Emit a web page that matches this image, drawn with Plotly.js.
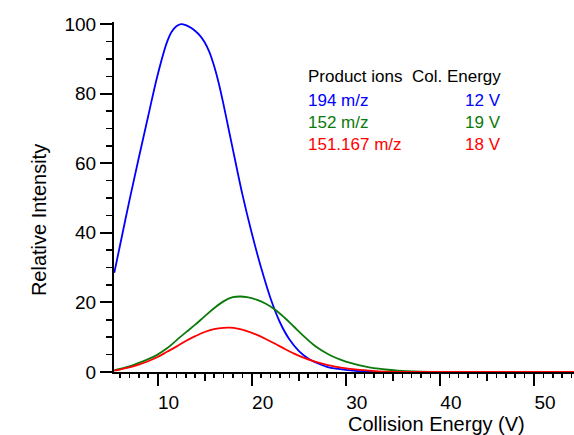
<!DOCTYPE html>
<html>
<head>
<meta charset="utf-8">
<script src="https://cdn.plot.ly/plotly-3.0.1.min.js"></script>
<style>html,body{margin:0;padding:0;background:#fff;}#chart{width:574px;height:435px;}</style>
</head>
<body>
<div id="chart"></div>
<script>
// Collision energy (V) and relative intensity
const blueX = [5.4, 6, 7, 8, 9, 10, 11, 11.5, 12, 12.5, 13, 13.5, 14, 14.5, 15, 15.5, 16, 16.5, 17, 17.5, 18, 18.5, 19, 20, 21, 22, 23, 24, 25, 26, 27, 28, 29, 30, 31, 32, 34, 36, 40, 55];
const blueY = [28.5, 36.3, 49.2, 61.5, 73.5, 85.3, 94.8, 97.8, 99.4, 100, 99.7, 99.0, 98.0, 96.7, 94.8, 92.0, 88.0, 83.0, 77.0, 70.5, 64.0, 57.5, 51.2, 40.0, 30.0, 21.2, 14.3, 9.4, 6.1, 3.9, 2.5, 1.5, 0.95, 0.6, 0.35, 0.2, 0.05, 0, 0, 0];

const greenX = [5.4, 6, 7, 8, 9, 10, 11, 12, 13, 14, 15, 16, 17, 18, 18.8, 19.5, 20.5, 21.5, 22.5, 23.5, 24.5, 25.5, 26.5, 27.5, 28.5, 29.5, 30.5, 31.5, 32.5, 33.5, 34.5, 35.5, 36.5, 38, 40, 55];
const greenY = [0.5, 0.9, 1.6, 2.6, 3.7, 5.0, 6.8, 9.1, 11.4, 13.6, 16.0, 18.3, 20.3, 21.5, 21.7, 21.5, 20.8, 19.6, 17.9, 15.6, 13.0, 10.4, 8.0, 6.1, 4.6, 3.5, 2.6, 1.9, 1.35, 0.95, 0.65, 0.4, 0.25, 0.1, 0, 0];

const redX = [5.4, 6, 7, 8, 9, 10, 11, 12, 13, 14, 15, 16, 17, 17.7, 18.5, 19.5, 20.5, 21.5, 22.5, 23.5, 24.5, 25.5, 26.5, 27.5, 28.5, 29.5, 30.5, 31.5, 32.5, 33.5, 35, 37, 55];
const redY = [0.4, 0.7, 1.3, 2.1, 3.1, 4.3, 5.8, 7.3, 8.9, 10.3, 11.5, 12.3, 12.7, 12.75, 12.45, 11.75, 10.75, 9.5, 8.1, 6.65, 5.3, 4.15, 3.2, 2.4, 1.75, 1.25, 0.9, 0.62, 0.4, 0.2, 0.05, 0, 0];

const ionLabels = ["194 m/z", "152 m/z", "151.167 m/z"];
const energyLabels = ["12 V", "19 V", "18 V"];
const colors = ["#0000ff", "#0a7a0a", "#ff0000"];
const xTickVals = [10, 20, 30, 40, 50];
const yTickVals = [0, 20, 40, 60, 80, 100];

const FONT = "Liberation Sans, Arial, sans-serif";
const xRange = [5.37, 54.25];

const lineStyle = c => ({color: c, width: 1.8, shape: "spline", smoothing: 1});
const traces = [
  {x: blueX, y: blueY, mode: "lines", line: lineStyle(colors[0]), hoverinfo: "skip"},
  {x: greenX, y: greenY, mode: "lines", line: lineStyle(colors[1]), hoverinfo: "skip"},
  {x: redX, y: redY, mode: "lines", line: lineStyle(colors[2]), hoverinfo: "skip"},
  {x: [null], y: [null], xaxis: "x2", mode: "lines", hoverinfo: "skip"}
];

const legendRows = [0.777, 0.714, 0.651];
const annotations = [
  {text: "Product ions", x: 0.4174, y: 0.843, xanchor: "left", font: {color: "#000"}},
  {text: "Col. Energy", x: 0.8457, y: 0.843, xanchor: "right", font: {color: "#000"}}
];
ionLabels.forEach((t, i) => {
  annotations.push({text: t, x: 0.4174, y: legendRows[i], xanchor: "left", font: {color: colors[i]}});
  annotations.push({text: energyLabels[i], x: 0.8457, y: legendRows[i], xanchor: "right", font: {color: colors[i]}});
});
annotations.forEach(a => {
  a.xref = "paper"; a.yref = "paper"; a.yanchor = "middle"; a.showarrow = false;
  a.font = Object.assign({family: FONT, size: 17}, a.font);
});
annotations.push({text: "Collision Energy (V)", xref: "paper", yref: "paper", x: 0.7, y: -0.1486,
  xanchor: "center", yanchor: "middle", showarrow: false, font: {family: FONT, size: 20, color: "#000"}});
annotations.push({text: "Relative Intensity", xref: "paper", yref: "paper", x: -0.163, y: 0.434, textangle: -90,
  xanchor: "center", yanchor: "middle", showarrow: false, font: {family: FONT, size: 20, color: "#000"}});

const layout = {
  width: 574, height: 435,
  margin: {l: 114, r: 0, t: 22, b: 63, pad: 0},
  paper_bgcolor: "#fff", plot_bgcolor: "#fff",
  showlegend: false,
  font: {family: FONT, size: 19, color: "#000"},
  xaxis: {
    range: xRange, showgrid: false, zeroline: false,
    showline: true, linecolor: "#000", linewidth: 2,
    tickmode: "array", tickvals: xTickVals, ticks: "outside", ticklen: 12, tickwidth: 2, tickcolor: "#000",
    ticklabelshift: 11,
    minor: {dtick: 1, tick0: 0, ticks: "outside", ticklen: 4, tickwidth: 1.5, tickcolor: "#000", showgrid: false},
    tickfont: {family: FONT, size: 19, color: "#000"}
  },
  xaxis2: {
    range: xRange, overlaying: "x", anchor: "y", showgrid: false, zeroline: false, showline: false,
    tickmode: "linear", tick0: 0, dtick: 5, ticks: "outside", ticklen: 8, tickwidth: 2, tickcolor: "#000",
    showticklabels: false
  },
  yaxis: {
    range: [0, 100.6], showgrid: false, zeroline: false,
    showline: true, linecolor: "#000", linewidth: 2,
    tickmode: "array", tickvals: yTickVals, ticks: "outside", ticklen: 12, tickwidth: 2, tickcolor: "#000",
    minor: {dtick: 5, tick0: 0, ticks: "outside", ticklen: 6, tickwidth: 1.5, tickcolor: "#000", showgrid: false},
    tickfont: {family: FONT, size: 19, color: "#000"}
  },
  annotations: annotations
};

Plotly.newPlot("chart", traces, layout, {staticPlot: true, displayModeBar: false});
</script>
</body>
</html>
